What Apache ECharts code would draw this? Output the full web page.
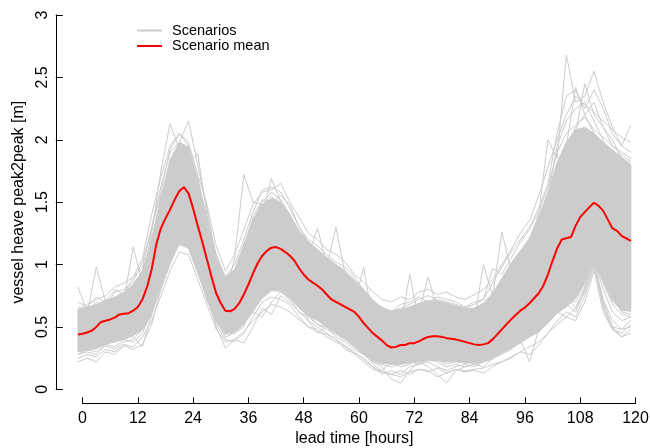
<!DOCTYPE html>
<html><head><meta charset="utf-8">
<script src="https://cdn.jsdelivr.net/npm/echarts@6/dist/echarts.min.js"></script>
<style>html,body{margin:0;padding:0;background:#fff}#c{width:650px;height:448px}</style>
</head><body><div id="c"></div>
<script>
// ---- data ----
const xTickLabels = [0,12,24,36,48,60,72,84,96,108,120];
const yTickLabels = [0,0.5,1,1.5,2,2.5,3];

const meanHours = [-1,0,1,2,3,4,5,6,7,8,9,10,11,12,13,14,15,16,17,18,19,20,21,22,23,24,25,26,27,28,29,30,31,32,33,34,35,36,37,38,39,40,41,42,43,44,45,46,47,48,49,50,51,52,53,54,55,56,57,58,59,60,61,62,63,64,65,66,67,68,69,70,71,72,73,74,75,76,77,78,79,80,81,82,83,84,85,86,87,88,89,90,91,92,93,94,95,96,97,98,99,100,101,102,103,104,105,106,107,108,109,110,111,112,113,114,115,116,117,118,119];
const scenarioMean = [.44,.445,.455,.47,.50,.54,.55,.56,.575,.60,.605,.61,.63,.66,.72,.82,.96,1.16,1.29,1.37,1.44,1.52,1.59,1.62,1.57,1.45,1.31,1.18,1.04,.90,.77,.69,.63,.625,.645,.69,.76,.84,.93,1.01,1.07,1.11,1.135,1.14,1.125,1.10,1.07,1.03,.97,.92,.88,.855,.83,.80,.76,.72,.70,.68,.66,.64,.62,.58,.53,.49,.45,.42,.39,.355,.335,.34,.355,.355,.37,.37,.385,.405,.42,.425,.425,.42,.41,.405,.40,.39,.38,.37,.36,.355,.36,.37,.40,.44,.48,.52,.56,.595,.63,.655,.69,.73,.77,.83,.92,1.03,1.13,1.20,1.21,1.22,1.31,1.38,1.42,1.46,1.495,1.47,1.43,1.36,1.29,1.27,1.23,1.21,1.19];

const scenarioHours = [-1,1,3,5,7,9,11,13,15,17,19,21,23,25,27,29,31,33,35,37,39,41,43,45,47,49,51,53,55,57,59,61,63,65,67,69,71,73,75,77,79,81,83,85,87,89,91,93,95,97,99,101,103,105,107,109,111,113,115,117,119];

// dense core of the scenario bundle
const coreLow  = [.30,.31,.33,.36,.38,.40,.43,.48,.60,.82,1.02,1.16,1.13,.93,.73,.54,.45,.46,.53,.63,.73,.79,.79,.73,.65,.59,.55,.50,.45,.40,.34,.28,.23,.21,.20,.20,.21,.22,.23,.23,.22,.22,.21,.21,.22,.25,.29,.33,.37,.42,.46,.53,.61,.66,.73,.86,1.02,.86,.71,.63,.63];
const coreHigh = [.64,.66,.68,.71,.74,.78,.84,.95,1.20,1.53,1.84,1.98,1.94,1.68,1.38,1.08,.90,.96,1.16,1.36,1.48,1.53,1.50,1.40,1.27,1.18,1.12,1.06,1.00,.94,.87,.79,.71,.65,.63,.64,.66,.69,.71,.71,.69,.67,.65,.65,.69,.77,.89,1.01,1.11,1.21,1.38,1.58,1.82,1.98,2.08,2.10,2.05,1.98,1.92,1.86,1.80];

// individual scenarios
const scenarioA = [.82,.62,.70,.66,.78,.80,.86,1.02,1.30,1.62,1.90,1.98,2.15,1.80,1.45,1.05,.85,.92,1.10,1.35,1.50,1.58,1.52,1.40,1.25,1.12,1.08,1.02,.95,.90,.82,.70,.62,.55,.50,.52,.55,.58,.62,.60,.58,.56,.55,.52,.55,.62,.75,.88,.98,1.08,1.22,1.45,1.72,1.95,2.10,2.20,2.05,1.95,1.90,1.80,1.75];
const scenarioB = [.22,.25,.22,.30,.28,.35,.32,.36,.52,.80,1.00,1.18,1.22,.95,.72,.52,.40,.38,.45,.58,.70,.74,.72,.68,.58,.50,.46,.44,.40,.35,.30,.24,.18,.14,.12,.10,.14,.16,.15,.10,.13,.16,.15,.16,.17,.20,.22,.26,.30,.28,.35,.45,.55,.62,.58,.75,.98,.72,.55,.48,.50];
const scenarioC = [.55,.60,.98,.70,.65,.72,1.14,.85,1.10,1.45,1.68,1.80,1.75,1.50,1.20,.90,.70,.75,.95,1.20,1.35,1.40,1.38,1.30,1.10,1.02,.95,.90,.85,.78,.75,.65,.58,.50,.45,.48,.92,.55,.58,.56,.55,.52,.50,.48,.52,.58,.70,.82,.92,1.00,1.15,1.35,1.55,1.75,1.85,1.90,1.85,1.75,1.62,1.55,1.58];
const scenarioD = [.48,.52,.55,.62,.60,.68,.72,.88,1.25,1.75,2.13,1.92,1.85,1.70,1.30,.95,.75,1.05,1.72,1.50,1.48,1.55,1.45,1.32,1.15,1.05,1.00,.98,1.30,.92,.85,.75,.65,.58,.52,.55,.60,.62,.90,.65,.62,.60,.58,.55,.60,.72,.85,1.00,1.10,1.20,1.40,2.00,1.85,2.68,2.30,2.35,2.55,2.30,2.10,1.95,2.12];
const scenarioE = [.38,.35,.40,.42,.45,.48,.50,.58,.75,1.05,1.25,1.35,1.30,1.10,.80,.50,.33,.40,.37,.50,.65,.60,.75,.70,.62,.55,.45,.50,.42,.38,.32,.28,.22,.18,.08,.05,.15,.22,.18,.12,.05,.15,.18,.20,.18,.25,.30,.35,.40,.22,.48,.55,.62,.58,.65,.78,1.02,.65,.48,.42,.48];
const scenarioF = [.50,.48,.56,.60,.64,.66,.75,.80,1.05,1.40,1.58,1.72,1.68,1.45,1.15,.85,.72,.70,.88,1.05,1.22,1.30,1.25,1.18,1.05,.98,.92,.85,.78,.72,.68,.98,.55,.48,.42,.46,.50,.55,.60,.58,.55,.50,.52,.55,1.00,.75,1.26,.95,1.05,1.15,1.25,1.40,1.68,1.82,2.05,2.45,2.20,2.10,2.00,1.85,1.80];
const scenarioG = [.30,.34,.32,.40,.38,.45,.42,.34,.60,.90,1.12,1.28,1.32,1.05,.85,.62,.45,.48,.55,.62,.58,.70,.78,.75,.65,.60,.52,.50,.48,.45,.38,.30,.20,.15,.22,.18,.20,.25,.28,.24,.20,.22,.25,.22,.24,.30,.35,.42,.50,.55,.62,.72,.85,.90,.95,1.10,1.15,.95,.75,.62,.60];
const scenarioH = [.62,.58,.62,.68,.72,.76,.80,.95,1.18,1.50,1.75,1.88,1.80,1.89,1.40,1.00,.80,.82,1.00,1.25,1.40,1.69,1.50,1.38,1.20,1.08,1.29,1.00,.95,.88,.80,.72,.65,.60,.55,.58,.62,.65,.68,.66,.62,.60,.58,.62,.65,.72,.80,.90,1.00,1.10,1.30,1.55,1.95,2.15,2.25,2.30,2.15,2.00,1.78,1.70,1.65];
const scenarioI = [.42,.46,.48,.52,.58,.55,.62,.70,.95,1.30,1.45,1.62,1.58,1.30,1.00,.75,.60,.62,.78,.95,1.10,1.15,1.10,1.05,.95,.88,.82,.75,.70,.65,.60,.52,.45,.38,.32,.35,.38,.40,.42,.44,.40,.38,.36,.35,.38,.42,.50,.58,.65,.70,.80,.95,1.15,1.25,1.35,1.45,1.50,1.40,1.30,1.22,1.20];
const scenarioJ = [.35,.40,.38,.45,.50,.52,.55,.62,.82,1.12,1.30,1.42,1.40,1.18,.90,.65,.52,.55,.65,.80,.92,.98,.95,.90,.80,.72,.68,.62,.58,.55,.50,.42,.35,.30,.25,.28,.30,.32,.35,.34,.32,.30,.28,.27,.30,.32,.38,.45,.50,.55,.62,.70,.80,.75,.65,.82,1.05,.70,.50,.42,.45];
const scenarioK = [.65,.68,.72,.75,.82,.85,.90,1.05,1.40,1.70,1.95,2.05,1.95,1.65,1.30,.95,.90,1.00,1.20,1.42,1.60,1.62,1.58,1.45,1.30,1.18,1.12,1.05,1.00,.95,.88,.80,.72,.65,.62,.65,.68,.72,.75,.72,.70,.68,.65,.68,.72,.85,.98,1.10,1.20,1.30,1.45,1.65,2.05,2.35,2.40,2.25,2.40,2.25,2.05,1.95,1.90];
const scenarioL = [.28,.30,.28,.35,.32,.38,.40,.48,.68,.95,1.20,1.35,1.25,1.02,.75,.55,.42,.45,.50,.68,.82,.90,.82,.78,.72,.55,.50,.45,.40,.32,.29,.25,.18,.12,.15,.12,.18,.20,.22,.18,.15,.18,.20,.18,.22,.25,.28,.32,.38,.45,.52,.58,.70,.68,.62,.80,1.00,.68,.50,.48,.55];
const scenarioM = [.45,.50,.45,.55,.52,.62,.60,.75,1.00,1.35,1.55,1.68,1.62,1.38,1.10,.82,.65,.68,.82,1.00,1.15,1.25,1.22,1.15,1.02,.92,.88,.80,.75,.70,.65,.58,.50,.44,.40,.42,.45,.48,.52,.50,.48,.45,.42,.40,.45,.48,.55,.65,.75,.85,.95,1.08,1.30,1.45,1.60,1.70,1.75,1.65,1.55,1.48,1.45];
const scenarioN = [.55,.55,.60,.58,.66,.70,.72,.85,1.15,1.55,1.68,1.78,1.72,1.55,1.22,.90,.76,.78,.92,1.12,1.30,1.38,1.35,1.25,1.12,1.02,.98,.92,.88,.82,.78,.68,.60,.52,.48,.50,.52,.56,.58,.56,.52,.50,.48,.46,.50,.55,.62,.72,.80,.90,1.05,1.22,1.50,1.62,1.75,1.82,1.80,1.85,1.70,1.62,1.60];
const scenarioO = [.36,.38,.42,.40,.46,.44,.48,.55,.72,1.00,1.18,1.32,1.35,1.12,.88,.60,.50,.52,.60,.72,.85,.88,.90,.85,.75,.68,.62,.58,.52,.48,.42,.36,.28,.24,.20,.22,.24,.26,.28,.28,.25,.24,.22,.22,.24,.28,.32,.38,.45,.50,.58,.65,.78,.82,.88,.98,1.10,.90,.72,.65,.62];
const scenarioP = [.58,.52,.58,.64,.62,.72,.68,.80,1.08,1.45,1.62,1.70,1.65,1.42,1.12,.85,.68,.72,.85,1.05,1.20,1.28,1.30,1.20,1.08,.95,.90,.86,.80,.76,.70,.62,.52,.46,.40,.44,.48,.50,.55,.52,.50,.48,.46,.44,.48,.52,.60,.70,.85,.95,1.08,1.30,1.65,1.80,1.95,2.10,2.00,1.88,1.82,1.78,1.85];
const scenarioQ = [.70,.66,.74,.70,.80,.76,.90,.98,1.28,1.58,1.92,2.05,1.98,1.72,1.48,1.15,.95,1.08,1.28,1.48,1.58,1.60,1.65,1.50,1.38,1.25,1.20,1.12,1.08,1.02,.92,.86,.78,.72,.70,.74,.72,.78,.80,.76,.78,.74,.72,.76,.80,.88,1.00,1.12,1.25,1.35,1.55,1.78,2.00,2.20,2.35,2.28,2.22,2.15,2.08,2.02,1.98];
const scenarioR = [.25,.28,.26,.32,.30,.36,.34,.42,.55,.75,.95,1.10,1.08,.88,.68,.48,.38,.40,.46,.55,.62,.68,.66,.62,.56,.50,.48,.42,.38,.34,.28,.22,.16,.14,.12,.15,.12,.16,.14,.17,.13,.16,.14,.15,.13,.18,.22,.25,.30,.34,.38,.45,.52,.58,.55,.70,.95,.62,.48,.45,.52];
const scenarioS = [.60,.64,.60,.72,.68,.78,.82,.90,1.20,1.52,1.80,1.95,1.90,1.62,1.35,1.08,.88,.95,1.15,1.38,1.52,1.50,1.55,1.48,1.30,1.20,1.15,1.08,1.02,.98,.90,.80,.70,.66,.62,.68,.70,.74,.70,.74,.72,.70,.66,.70,.72,.97,.92,1.05,1.18,1.28,1.42,1.62,1.90,2.05,2.12,2.18,2.08,2.02,1.95,1.90,1.85];
const scenarioT = [.28,.32,.30,.36,.34,.40,.38,.45,.62,.85,1.05,1.22,1.15,.95,.72,.55,.44,.45,.52,.62,.75,.80,.78,.72,.62,.58,.52,.48,.44,.40,.34,.28,.22,.20,.18,.20,.22,.20,.24,.22,.18,.20,.18,.20,.22,.24,.30,.35,.40,.45,.50,.60,.68,.72,.70,.85,1.05,.80,.62,.55,.58];
const scenarioU = [.52,.58,.64,.62,.70,.74,.78,.88,1.12,1.48,1.70,1.85,1.82,1.58,1.25,.98,.80,.86,1.02,1.22,1.38,1.45,1.40,1.35,1.22,1.10,1.05,.98,.92,.86,.80,.72,.62,.58,.56,.60,.64,.66,.68,.70,.66,.64,.62,.60,.64,.70,.82,.98,1.08,1.20,1.35,1.52,1.80,1.95,2.42,2.20,2.30,2.10,1.95,1.88,1.82];
const scenarioV = [.33,.36,.36,.42,.44,.46,.50,.52,.70,.98,1.15,1.25,1.28,1.05,.82,.58,.48,.50,.58,.70,.78,.84,.85,.80,.70,.64,.58,.55,.50,.45,.40,.32,.26,.22,.22,.24,.26,.28,.26,.30,.27,.26,.24,.25,.27,.30,.35,.40,.45,.52,.56,.62,.72,.75,.80,.92,1.08,.85,.68,.60,.58];
const scenarios = [scenarioA,scenarioB,scenarioC,scenarioD,scenarioE,scenarioF,scenarioG,scenarioH,scenarioI,scenarioJ,scenarioK,scenarioL,scenarioM,scenarioN,scenarioO,scenarioP,scenarioQ,scenarioR,scenarioS,scenarioT,scenarioU,scenarioV];

// ---- chart ----
const GRAY = '#cccccc', RED = '#ff0000', FONT = '"Liberation Sans", Arial, Helvetica, sans-serif';
const pair = (xs, ys) => xs.map((x, i) => [x, ys[i]]);
const series = [];
// dense core band drawn as one polygon through the axis scales
series.push({type:'custom', name:'core', xAxisIndex:0, yAxisIndex:0, silent:true, z:1,
  data:[[scenarioHours[0], coreLow[0]]],
  renderItem:(params, api) => {
    const pts = [];
    for (let i = 0; i < scenarioHours.length; i++) pts.push(api.coord([scenarioHours[i], coreHigh[i]]));
    for (let i = scenarioHours.length - 1; i >= 0; i--) pts.push(api.coord([scenarioHours[i], coreLow[i]]));
    return {type:'polygon', shape:{points:pts}, style:{fill:GRAY, stroke:GRAY, lineWidth:1}};
  }});
scenarios.forEach(s => series.push({type:'line', name:'Scenarios', data: pair(scenarioHours, s), symbol:'none', silent:true,
  lineStyle:{color:GRAY, width:1}, itemStyle:{color:GRAY}, xAxisIndex:0, yAxisIndex:0, z:2}));
series.push({type:'line', name:'Scenario mean', data: pair(meanHours, scenarioMean), symbol:'none', silent:true,
  lineStyle:{color:RED, width:2}, itemStyle:{color:RED}, xAxisIndex:0, yAxisIndex:0, z:3});

const chart = echarts.init(document.getElementById('c'), null, {renderer:'canvas'});
chart.setOption({
  animation:false,
  backgroundColor:'#fff',
  textStyle:{fontFamily:FONT},
  grid:[
    {left:55.8, width:597.2, top:15, height:374.3, outerBoundsMode:'none', containLabel:false},
    {left:82.5, width:553, top:15, height:388.3, outerBoundsMode:'none', containLabel:false}
  ],
  legend:{
    data:[
      {name:'Scenarios', icon:'rect', itemStyle:{color:GRAY}},
      {name:'Scenario mean', icon:'rect', itemStyle:{color:RED}}
    ],
    orient:'vertical', left:137, top:23, itemWidth:25, itemHeight:2, itemGap:0.5, padding:0,
    selectedMode:false,
    textStyle:{fontSize:14.5, color:'#000', fontFamily:FONT, lineHeight:14, padding:[0,0,0,5]}
  },
  xAxis:[
    {gridIndex:0, type:'value', min:-5.8, max:123.8, axisLine:{show:false}, axisTick:{show:false}, axisLabel:{show:false}, splitLine:{show:false},
     name:'lead time [hours]', nameLocation:'middle', nameGap:41, nameTextStyle:{fontSize:16, color:'#000', fontFamily:FONT}},
    {gridIndex:1, type:'value', min:0, max:120, interval:12,
     axisLine:{show:true, onZero:false, lineStyle:{color:'#000', width:1}},
     axisTick:{show:true, inside:true, length:6, lineStyle:{color:'#000', width:1}},
     axisLabel:{fontSize:16, color:'#000', margin:7, fontFamily:FONT},
     splitLine:{show:false}}
  ],
  yAxis:[
    {gridIndex:0, type:'value', min:0, max:3, interval:0.5,
     axisLine:{show:true, onZero:false, lineStyle:{color:'#000', width:1}},
     axisTick:{show:true, inside:true, length:7, lineStyle:{color:'#000', width:1}},
     axisLabel:{rotate:90, fontSize:16, color:'#000', margin:5, fontFamily:FONT},
     splitLine:{show:false},
     name:'vessel heave peak2peak [m]', nameLocation:'middle', nameGap:22, nameRotate:90,
     nameTextStyle:{fontSize:16, color:'#000', fontFamily:FONT}},
    {gridIndex:1, type:'value', show:false, min:0, max:3}
  ],
  series: series
});
</script></body></html>
